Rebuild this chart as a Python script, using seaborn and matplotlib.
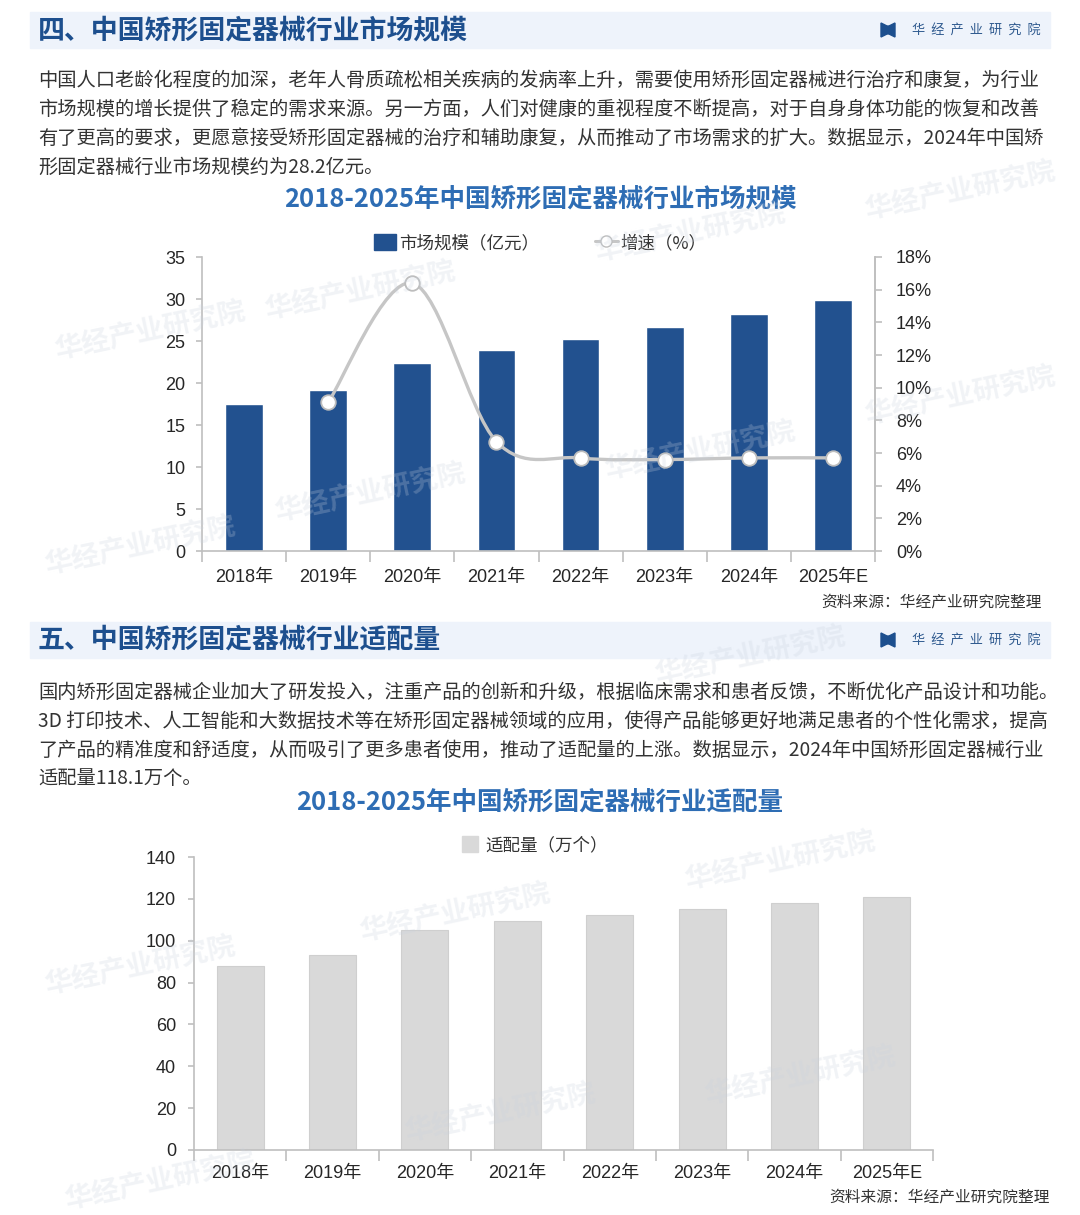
import matplotlib
matplotlib.use("Agg")
import matplotlib.pyplot as plt
import seaborn as sns
import numpy as np
from matplotlib.patches import Rectangle, Polygon
from matplotlib.path import Path
from matplotlib.patches import PathPatch
from matplotlib.lines import Line2D
from matplotlib.ticker import FixedLocator

# --- data ---
years = ["2018年", "2019年", "2020年", "2021年", "2022年", "2023年", "2024年", "2025年E"]
market_size = [17.5, 19.2, 22.4, 23.9, 25.2, 26.7, 28.2, 29.9]        # 亿元
growth_years = ["2019年", "2020年", "2021年", "2022年", "2023年", "2024年", "2025年E"]
growth_rate = [9.1, 16.4, 6.7, 5.7, 5.6, 5.7, 5.7]                    # %
fitting_volume = [88.0, 93.2, 105.1, 109.4, 112.3, 115.1, 118.1, 120.9]  # 万个

left_ticks1 = [0, 5, 10, 15, 20, 25, 30, 35]
right_ticks1 = [0, 2, 4, 6, 8, 10, 12, 14, 16, 18]
left_ticks2 = [0, 20, 40, 60, 80, 100, 120, 140]

header1 = "四、中国矫形固定器械行业市场规模"
header2 = "五、中国矫形固定器械行业适配量"
para1 = [
    "中国人口老龄化程度的加深，老年人骨质疏松相关疾病的发病率上升，需要使用矫形固定器械进行治疗和康复，为行业",
    "市场规模的增长提供了稳定的需求来源。另一方面，人们对健康的重视程度不断提高，对于自身身体功能的恢复和改善",
    "有了更高的要求，更愿意接受矫形固定器械的治疗和辅助康复，从而推动了市场需求的扩大。数据显示，2024年中国矫",
    "形固定器械行业市场规模约为28.2亿元。",
]
para2 = [
    "国内矫形固定器械企业加大了研发投入，注重产品的创新和升级，根据临床需求和患者反馈，不断优化产品设计和功能。",
    "3D 打印技术、人工智能和大数据技术等在矫形固定器械领域的应用，使得产品能够更好地满足患者的个性化需求，提高",
    "了产品的精准度和舒适度，从而吸引了更多患者使用，推动了适配量的上涨。数据显示，2024年中国矫形固定器械行业",
    "适配量118.1万个。",
]
title1 = "2018-2025年中国矫形固定器械行业市场规模"
title2 = "2018-2025年中国矫形固定器械行业适配量"
source = "资料来源：华经产业研究院整理"
brand = "华  经  产  业  研  究  院"

sns.set_theme(style="white")
plt.rcParams["font.family"] = ["Noto Sans CJK SC", "DejaVu Sans"]
NUM_FONT = ["Liberation Sans", "Noto Sans CJK SC"]

W, H = 1080, 1215
fig = plt.figure(figsize=(W / 100, H / 100), dpi=100)
fig.patch.set_facecolor("white")


def fx(x):
    return x / W


def fy(y):
    return 1 - y / H


def header(y_top, text):
    fig.patches.append(Rectangle((fx(30), fy(y_top + 36)), fx(1020), 36 / H,
                                 transform=fig.transFigure, color="#eef3fb", zorder=0))
    yc = y_top + 18
    fig.text(fx(38), fy(yc), text, fontsize=19.4, fontweight="bold", color="#1d4f8e",
             va="center", ha="left")
    # little logo mark
    pts = [(881, yc - 7), (887, yc - 4), (889, yc - 4), (895, yc - 7),
           (895, yc + 7), (889, yc + 4), (887, yc + 4), (881, yc + 7)]
    fig.patches.append(Polygon([(fx(a), fy(b)) for a, b in pts], closed=True,
                               transform=fig.transFigure, color="#1d4f8e"))
    fig.text(fx(1041), fy(yc), brand, fontsize=9.5, color="#2f5a8f", va="center", ha="right")


def paragraph(y0, lines):
    for i, line in enumerate(lines):
        fig.text(fx(38), fy(y0 + 29 * i), line, fontsize=13.85, color="#333333",
                 va="center", ha="left")


header(12, header1)
paragraph(80, para1)
fig.text(0.5, fy(199), title1, fontsize=18.4, fontweight="bold", color="#2e6db4",
         ha="center", va="center")

header(622, header2)
paragraph(692, para2)
fig.text(0.5, fy(802), title2, fontsize=18.4, fontweight="bold", color="#2e6db4",
         ha="center", va="center")

# faint watermarks
wm_pos = [(360, 290), (150, 330), (140, 545), (960, 190), (960, 395), (690, 232),
          (370, 492), (700, 450), (780, 860), (455, 912), (140, 965), (800, 1075),
          (500, 1112), (160, 1180), (750, 655)]
for x, y in wm_pos:
    fig.text(fx(x), fy(y), "华经产业研究院", fontsize=20, fontweight="bold",
             color="#c9d2de", alpha=0.25, rotation=12, ha="center", va="center", zorder=10)

GRID = "#bfbfbf"
TICK = "#262626"

# --- chart 1 ---
ax = fig.add_axes([fx(202), fy(551), fx(875 - 202), (551 - 257) / H])
sns.barplot(x=years, y=market_size, color="#22518f", width=0.45, saturation=1, ax=ax, zorder=2)
ax.set_xlim(-0.5, len(years) - 0.5)
ax.set_ylim(0, 35)
ax.set_yticks(left_ticks1)
ax.set_xlabel("")
ax.set_ylabel("")
ax.spines["top"].set_visible(False)
for s in ["left", "bottom", "right"]:
    ax.spines[s].set_color(GRID)
    ax.spines[s].set_linewidth(1.2)
ax.xaxis.set_minor_locator(FixedLocator(np.arange(-0.5, len(years), 1.0)))
ax.tick_params(axis="x", which="major", length=0, pad=13)
ax.tick_params(axis="x", which="minor", length=8, color=GRID, width=1.2, direction="out", bottom=True)
ax.tick_params(axis="y", length=4, color=GRID, width=1.2, direction="out", left=True, pad=8)
for lab in ax.get_xticklabels() + ax.get_yticklabels():
    lab.set_fontfamily(NUM_FONT)
    lab.set_fontsize(13)
    lab.set_color(TICK)

ax2 = ax.twinx()
ax2.set_ylim(0, 18)
ax2.set_yticks(right_ticks1)
ax2.set_yticklabels([f"{t}%" for t in right_ticks1])
for s in ["top", "left", "bottom"]:
    ax2.spines[s].set_visible(False)
ax2.spines["right"].set_color(GRID)
ax2.spines["right"].set_linewidth(1.2)
ax2.tick_params(axis="y", length=5, color=GRID, width=1.2, direction="out", right=True, pad=10)
for lab in ax2.get_yticklabels():
    lab.set_fontfamily(NUM_FONT)
    lab.set_fontsize(13)
    lab.set_color(TICK)
ax2.grid(False)

gx = [years.index(y) for y in growth_years]
pts = np.column_stack([gx, growth_rate]).astype(float)
# smooth (Excel-like) curve through the growth points
verts = [tuple(pts[0])]
codes = [Path.MOVETO]
n = len(pts)
for i in range(n - 1):
    p0 = pts[max(i - 1, 0)]
    p1 = pts[i]
    p2 = pts[i + 1]
    p3 = pts[min(i + 2, n - 1)]
    c1 = p1 + (p2 - p0) / 6
    c2 = p2 - (p3 - p1) / 6
    verts += [tuple(c1), tuple(c2), tuple(p2)]
    codes += [Path.CURVE4] * 3
ax2.add_patch(PathPatch(Path(verts, codes), facecolor="none", edgecolor="#c6c6c6",
                        linewidth=2.4, zorder=3))
sns.scatterplot(x=gx, y=growth_rate, ax=ax2, s=110, color="white", edgecolor="#bdbdbd",
                linewidth=1.3, zorder=4, legend=False)
ax2.set_xlim(-0.5, len(years) - 0.5)

handles1 = [
    Rectangle((0, 0), 1, 1, color="#22518f"),
    Line2D([0], [0], color="#c6c6c6", lw=2.2, marker="o", markersize=8,
           markerfacecolor="white", markeredgecolor="#bdbdbd"),
]
fig.legend(handles1, ["市场规模（亿元）", "增速（%）"], loc="center",
           bbox_to_anchor=(fx(540), fy(243)), ncol=2, frameon=False, fontsize=12.6,
           handlelength=1.3, handleheight=1.0, handletextpad=0.15, columnspacing=3.2,
           labelcolor="#333333")

fig.text(fx(1042), fy(602), source, fontsize=11.3, color="#333333", ha="right", va="center")

# --- chart 2 ---
bx = fig.add_axes([fx(194), fy(1150), fx(933 - 194), (1150 - 857) / H])
sns.barplot(x=years, y=fitting_volume, color="#d9d9d9", width=0.51, saturation=1, ax=bx,
            edgecolor="#cfcfcf", linewidth=0.8)
bx.set_xlim(-0.5, len(years) - 0.5)
bx.set_ylim(0, 140)
bx.set_yticks(left_ticks2)
bx.set_xlabel("")
bx.set_ylabel("")
for s in ["top", "right"]:
    bx.spines[s].set_visible(False)
for s in ["left", "bottom"]:
    bx.spines[s].set_color(GRID)
    bx.spines[s].set_linewidth(1.2)
bx.xaxis.set_minor_locator(FixedLocator(np.arange(-0.5, len(years), 1.0)))
bx.tick_params(axis="x", which="major", length=0, pad=11)
bx.tick_params(axis="x", which="minor", length=8, color=GRID, width=1.2, direction="out", bottom=True)
bx.tick_params(axis="y", length=4, color=GRID, width=1.2, direction="out", left=True, pad=9)
for lab in bx.get_xticklabels() + bx.get_yticklabels():
    lab.set_fontfamily(NUM_FONT)
    lab.set_fontsize(13)
    lab.set_color(TICK)

fig.legend([Rectangle((0, 0), 1, 1, color="#d9d9d9")], ["适配量（万个）"], loc="center",
           bbox_to_anchor=(fx(535), fy(845)), frameon=False, fontsize=12.6,
           handlelength=0.9, handleheight=1.0, handletextpad=0.4, labelcolor="#333333")

fig.text(fx(1050), fy(1197), source, fontsize=11.3, color="#333333", ha="right", va="center")

fig.savefig("out.png", dpi=100)
